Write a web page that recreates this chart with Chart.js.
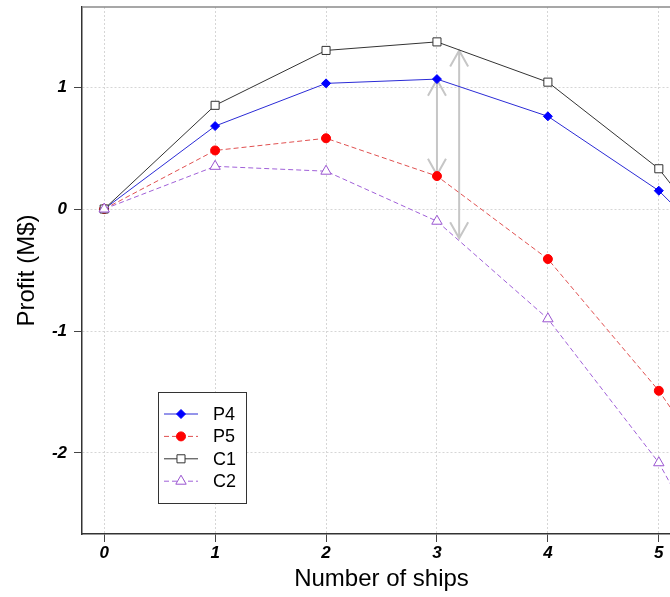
<!DOCTYPE html>
<html>
<head>
<meta charset="utf-8">
<script src="https://cdn.jsdelivr.net/npm/chart.js@4"></script>
<style>
  html, body { margin: 0; padding: 0; background: #fff; overflow: hidden; }
  #wrap { width: 690px; height: 597px; }
</style>
</head>
<body>
<div id="wrap"><canvas id="profit-chart" width="690" height="597"></canvas></div>
<script>
(function() {
  const SHIPS = [0, 1, 2, 3, 4, 5, 6];
  const P4 = [0, 0.68, 1.03, 1.065, 0.76, 0.15, -0.76];
  const P5 = [0, 0.48, 0.58, 0.27, -0.41, -1.49, -2.81];
  const C1 = [0, 0.85, 1.30, 1.37, 1.04, 0.33, -0.83];
  const C2 = [0, 0.35, 0.31, -0.10, -0.90, -2.08, -3.73];
  const X_TICKS = [0, 1, 2, 3, 4, 5];
  const Y_TICKS = [-2, -1, 0, 1];
  const ARROW_X = [3, 3.2];
  const ARROW_TOP = [1.06, 1.30];
  const ARROW_BOTTOM = [0.28, -0.24];

  const FONT = "'Liberation Sans', Arial, sans-serif";

  function toPoints(vals) {
    let pts = [];
    for (let i = 0; i < vals.length; i++) {
      pts.push({x: SHIPS[i], y: vals[i]});
    }
    return pts;
  }

  let seriesList = [
    {label: "P4", data: P4, line: "#2b2bd6", fill: "#0000ff", border: "#0000ff", style: "rectRot", r: 4.5, dash: [], order: 4},
    {label: "P5", data: P5, line: "#e05050", fill: "#ff0000", border: "#ff0000", style: "circle", r: 4.5, dash: [5, 3], order: 3},
    {label: "C1", data: C1, line: "#333333", fill: "#ffffff", border: "#333333", style: "rect", r: 5.7, dash: [], order: 2},
    {label: "C2", data: C2, line: "#a060d8", fill: "#ffffff", border: "#9a55d0", style: "triangle", r: 6, dash: [5, 3], order: 1}
  ];

  let datasets = seriesList.map(function(s) {
    return {
      label: s.label,
      data: toPoints(s.data),
      borderColor: s.line,
      borderWidth: 1,
      borderDash: s.dash,
      pointStyle: s.style,
      pointRadius: s.r,
      pointBackgroundColor: s.fill,
      pointBorderColor: s.border,
      pointBorderWidth: 1,
      order: s.order,
      tension: 0
    };
  });

  // arrows, top frame and the boxed legend
  const extras = {
    id: "extras",
    beforeDatasetsDraw(chart) {
      let ctx = chart.ctx;
      let xs = chart.scales.x;
      let ys = chart.scales.y;
      ctx.save();
      ctx.strokeStyle = "#c6c6c6";
      ctx.lineWidth = 2;
      for (let i = 0; i < ARROW_X.length; i++) {
        let px = xs.getPixelForValue(ARROW_X[i]);
        let top = ys.getPixelForValue(ARROW_TOP[i]);
        let bot = ys.getPixelForValue(ARROW_BOTTOM[i]);
        ctx.beginPath();
        ctx.moveTo(px, top);
        ctx.lineTo(px, bot);
        ctx.moveTo(px - 9, top + 16);
        ctx.lineTo(px, top);
        ctx.lineTo(px + 9, top + 16);
        ctx.moveTo(px - 9, bot - 16);
        ctx.lineTo(px, bot);
        ctx.lineTo(px + 9, bot - 16);
        ctx.stroke();
      }
      ctx.restore();
    },
    afterDraw(chart) {
      let ctx = chart.ctx;
      let area = chart.chartArea;
      ctx.save();
      ctx.strokeStyle = "#8a8a8a";
      ctx.lineWidth = 1.5;
      ctx.beginPath();
      ctx.moveTo(area.left, area.top);
      ctx.lineTo(area.right, area.top);
      ctx.stroke();

      let bx = area.left + 76, by = 392, bw = 88, bh = 111;
      ctx.fillStyle = "#ffffff";
      ctx.fillRect(bx, by, bw, bh);
      ctx.strokeStyle = "#333333";
      ctx.lineWidth = 1;
      ctx.strokeRect(bx + 0.5, by + 0.5, bw, bh);
      for (let i = 0; i < seriesList.length; i++) {
        let s = seriesList[i];
        let ry = by + 22 + i * 22.4;
        ctx.strokeStyle = s.line;
        ctx.setLineDash(s.dash);
        ctx.beginPath();
        ctx.moveTo(bx + 6, ry);
        ctx.lineTo(bx + 40, ry);
        ctx.stroke();
        ctx.setLineDash([]);
        ctx.fillStyle = s.fill;
        ctx.strokeStyle = s.border;
        Chart.helpers.drawPoint(ctx, {pointStyle: s.style, radius: s.r, rotation: 0, borderWidth: 1}, bx + 23, ry);
        ctx.fillStyle = "#000000";
        ctx.font = "18px " + FONT;
        ctx.textBaseline = "middle";
        ctx.textAlign = "left";
        ctx.fillText(s.label, bx + 55, ry + 1);
      }
      ctx.restore();
    }
  };

  let tickFont = {family: FONT, size: 17, weight: "bold", style: "italic"};
  let titleFont = {family: FONT, size: 24};

  new Chart(document.getElementById("profit-chart").getContext("2d"), {
    type: "line",
    data: {datasets: datasets},
    options: {
      responsive: false,
      animation: false,
      devicePixelRatio: 1,
      layout: {padding: {left: 0, top: 7, right: 9, bottom: 0}},
      plugins: {legend: {display: false}, tooltip: {enabled: false}},
      scales: {
        x: {
          type: "linear",
          min: -0.2,
          max: 5.2,
          afterBuildTicks: function(s) { s.ticks = X_TICKS.map(function(v) { return {value: v}; }); },
          afterFit: function(s) { s.height = 63; s.paddingLeft = 0; s.paddingRight = 0; },
          ticks: {font: tickFont, color: "#000", padding: 1, maxRotation: 0},
          grid: {color: "#d6d6d6", tickColor: "#444", tickLength: 8, lineWidth: 1},
          border: {color: "#333", width: 1.5, dash: [2, 2]},
          title: {display: true, text: "Number of ships", font: titleFont, color: "#000", padding: {top: 0, bottom: 3}}
        },
        y: {
          type: "linear",
          min: -2.664,
          max: 1.656,
          afterBuildTicks: function(s) { s.ticks = Y_TICKS.map(function(v) { return {value: v}; }); },
          afterFit: function(s) { s.width = 82; s.paddingTop = 0; s.paddingBottom = 0; },
          ticks: {font: tickFont, color: "#000", padding: 7},
          grid: {color: "#d6d6d6", tickColor: "#444", tickLength: 8, lineWidth: 1},
          border: {color: "#333", width: 1.5, dash: [2, 2]},
          title: {display: true, text: "Profit (M$)", font: titleFont, color: "#000", padding: {top: 13, bottom: 0}}
        }
      }
    },
    plugins: [extras]
  });
})();
</script>
</body>
</html>
